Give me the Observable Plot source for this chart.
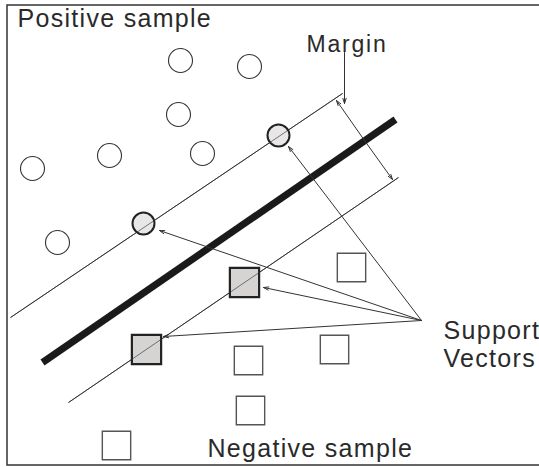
<!DOCTYPE html>
<html><head><meta charset="utf-8">
<script src="https://cdn.jsdelivr.net/npm/d3@7"></script>
<script src="https://cdn.jsdelivr.net/npm/@observablehq/plot@0.6"></script>
<style>body{margin:0;background:#fff}#chart svg{display:block}</style>
</head><body><div id="chart"></div>
<script>
// Feature-space coordinates (u across, v down)
const positiveU = [180, 249, 178, 109, 202, 32, 57];
const positiveV = [60, 66, 114, 155, 153, 168, 242];
const negativeU = [351, 334, 248, 250, 116];
const negativeV = [267, 349, 360, 410, 445];
const supportPosU = [143, 278];
const supportPosV = [223, 135];
const supportNegU = [244, 146];
const supportNegV = [282, 349];
// hyperplane and margin boundaries: [u1, v1, u2, v2]
const hyperplane = [42, 362, 395, 119];
const upperMargin = [10, 317, 342, 93];
const lowerMargin = [68, 402, 398, 177];
// margin width indicator
const marginMid = [364, 140];
const marginEnds = [[336, 100], [392, 179]];
const marginPointer = [344, 52, 344, 103];
// support-vector pointer origin and targets
const svOrigin = [421, 320];
const svTargets = [[288, 146], [159, 230], [263, 287], [163, 336]];
const labels = ["Positive sample", "Margin", "Support", "Vectors", "Negative sample"];
const labelU = [17, 306, 443, 443, 207];
const labelV = [26, 51, 338, 366, 456];
const labelSize = [25, 23, 25, 25, 25];

const pts = (us, vs) => us.map((u, i) => ({u, v: vs[i]}));
const seg = (a) => ({u1: a[0], v1: a[1], u2: a[2], v2: a[3]});

const font = "'Liberation Sans', Arial, sans-serif";
const plot = Plot.plot({
  width: 539, height: 467,
  margin: 0,
  x: {domain: [0, 539], axis: null},
  y: {domain: [467, 0], axis: null},
  style: {fontFamily: font, background: "#fff"},
  marks: [
    Plot.rect([{a: 7, b: 560, c: 5, d: 465}], {x1: "a", x2: "b", y1: "c", y2: "d", fill: "none", stroke: "#333", strokeWidth: 1.5}),
    Plot.link([seg(upperMargin), seg(lowerMargin)], {x1: "u1", y1: "v1", x2: "u2", y2: "v2", stroke: "#333", strokeWidth: 1}),
    Plot.link([seg(hyperplane)], {x1: "u1", y1: "v1", x2: "u2", y2: "v2", stroke: "#1a1a1a", strokeWidth: 7}),
    Plot.arrow(marginEnds.map(e => ({u1: marginMid[0], v1: marginMid[1], u2: e[0], v2: e[1]})),
      {x1: "u1", y1: "v1", x2: "u2", y2: "v2", stroke: "#333", strokeWidth: 1, headLength: 8, headAngle: 35}),
    Plot.arrow([seg(marginPointer)], {x1: "u1", y1: "v1", x2: "u2", y2: "v2", stroke: "#333", strokeWidth: 1, headLength: 8, headAngle: 35}),
    Plot.arrow(svTargets.map(t => ({u1: svOrigin[0], v1: svOrigin[1], u2: t[0], v2: t[1]})),
      {x1: "u1", y1: "v1", x2: "u2", y2: "v2", stroke: "#333", strokeWidth: 1, headLength: 8, headAngle: 35}),
    Plot.dot(pts(positiveU, positiveV), {x: "u", y: "v", r: 12, stroke: "#333", strokeWidth: 1.1, fill: "#fff"}),
    Plot.dot(pts(negativeU, negativeV), {x: "u", y: "v", r: 16, symbol: "square", stroke: "#555", strokeWidth: 1.4, fill: "#fff"}),
    Plot.dot(pts(supportPosU, supportPosV), {x: "u", y: "v", r: 11, stroke: "#222", strokeWidth: 2, fill: "#e8e6e6"}),
    Plot.dot(pts(supportNegU, supportNegV), {x: "u", y: "v", r: 16.5, symbol: "square", stroke: "#222", strokeWidth: 2.2, fill: "#d6d3d3"}),
    // margin lines pass visibly over support vectors
    Plot.link([seg(upperMargin), seg(lowerMargin)], {x1: "u1", y1: "v1", x2: "u2", y2: "v2", stroke: "#333", strokeWidth: 0.8, strokeOpacity: 0.8}),
    Plot.text(labels.map((t, i) => ({t, u: labelU[i], v: labelV[i], s: labelSize[i]})),
      {x: "u", y: "v", text: "t", textAnchor: "start", lineAnchor: "bottom", fontSize: 25, fill: "#2a2a2a", fontFamily: font})
  ]
});
const sizes = labelSize;
plot.querySelectorAll("text").forEach((t, i) => {
  t.style.letterSpacing = i === 1 ? "1.8px" : "1.3px";
  if (sizes[i] !== undefined) t.setAttribute("font-size", sizes[i]);
});
document.getElementById("chart").append(plot);
</script>
</body></html>
